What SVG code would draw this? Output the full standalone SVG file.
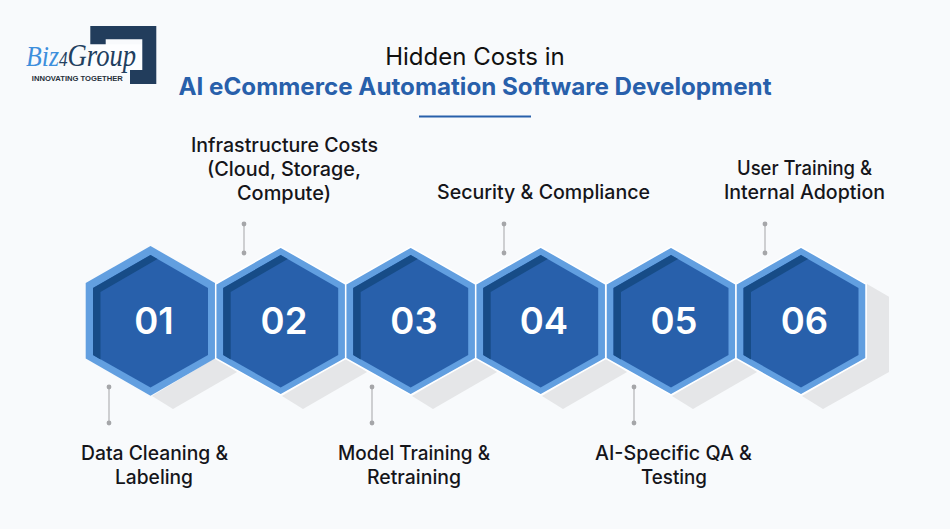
<svg xmlns="http://www.w3.org/2000/svg" xmlns:xlink="http://www.w3.org/1999/xlink" width="950" height="529" viewBox="0 0 950 529">
<style>
.t{font-family:"Inter","Liberation Sans",sans-serif;font-size:19.5px;font-weight:500;fill:#15151a;text-anchor:middle}
.h{font-family:"Inter","Liberation Sans",sans-serif;font-size:24px;text-anchor:middle}
.n{font-family:"Inter","Liberation Sans",sans-serif;font-size:36.5px;font-weight:600;fill:#fff;text-anchor:middle}
.lg{font-family:"Liberation Serif",serif;font-style:italic}
.ln{stroke:#c9cacd;stroke-width:1.8}
.d{fill:#a5a6a9}
.sh{fill:#e5e6e8}
</style>
<defs>
<g id="core">
<polygon points="0,-66 57.5,-33 57.5,34 0,66.500 -57.500,34 -57.500,-33" fill="#2860ab"/>
<polygon points="0,-66 7,-62 -50,-29 -50,38.500 -57.500,34 -57.500,-33" fill="#174c87"/>
</g>
<g id="hex">
<polygon points="0,-74 65,-37 65,37.500 0,73.800 -65,37.500 -65,-37" fill="#629fe0" stroke="#fff" stroke-width="1.5"/>
<use xlink:href="#core" href="#core"/>
</g>
</defs>
<rect width="950" height="529" fill="#f8fafc"/>
<g id="logo">
<polygon points="90.300,44.300 142.300,44.300 142.300,70 130,70 90.300,70" fill="#fdfeff"/>
<polygon points="90.300,26 156.300,26 156.300,84 130,84 130,70 142.300,70 142.300,39.300 105.700,39.300 105.700,44.300 90.300,44.300" fill="#223d5c"/>
<text class="lg" transform="translate(26 66) scale(.86 1)" font-size="30" fill="#22405f"><tspan fill="#3d8fdc">Biz</tspan><tspan font-size="20">4</tspan><tspan font-size="31">Group</tspan></text>
<text x="77.300" y="80.500" font-family="Liberation Sans,sans-serif" font-size="7.500" font-weight="700" fill="#26303a" text-anchor="middle" textLength="91" lengthAdjust="spacingAndGlyphs">INNOVATING TOGETHER</text>
</g>
<g id="title">
<text class="h" x="475" y="65" fill="#111">Hidden Costs in</text>
<text class="h" x="475" y="95" fill="#2860ab" font-weight="700" textLength="593" lengthAdjust="spacingAndGlyphs">AI eCommerce Automation Software Development</text>
<line x1="419" y1="116.500" x2="531" y2="116.500" stroke="#2860ab" stroke-width="2"/>
</g>
<g id="connectors">
<line class="ln" x1="109" y1="387" x2="109" y2="423"/><circle class="d" cx="109" cy="387" r="2.400"/><circle class="d" cx="109" cy="423" r="2.400"/>
<line class="ln" x1="244" y1="224" x2="244" y2="253"/><circle class="d" cx="244" cy="224" r="2.400"/><circle class="d" cx="244" cy="253" r="2.400"/>
<line class="ln" x1="372" y1="387" x2="372" y2="423"/><circle class="d" cx="372" cy="387" r="2.400"/><circle class="d" cx="372" cy="423" r="2.400"/>
<line class="ln" x1="504" y1="224" x2="504" y2="253"/><circle class="d" cx="504" cy="224" r="2.400"/><circle class="d" cx="504" cy="253" r="2.400"/>
<line class="ln" x1="634" y1="387" x2="634" y2="423"/><circle class="d" cx="634" cy="387" r="2.400"/><circle class="d" cx="634" cy="423" r="2.400"/>
<line class="ln" x1="765" y1="224" x2="765" y2="253"/><circle class="d" cx="765" cy="224" r="2.400"/><circle class="d" cx="765" cy="253" r="2.400"/>
</g>
<g id="shadows">
<polygon class="sh" points="867,284 889,296.700 889,372 823,409 802,396 867,358"/>
<polygon class="sh" points="152,396 173,409 237,372 215,358"/>
<polygon class="sh" points="282,396 303,409 367,372 345,358"/>
<polygon class="sh" points="412,396 433,409 497,372 475,358"/>
<polygon class="sh" points="542,396 563,409 627,372 605,358"/>
<polygon class="sh" points="672,396 693,409 757,372 735,358"/>
</g>
<g id="node-01"><polygon points="150.500,246 215,283 215,358.500 150.500,395.700 85.700,358.500 85.700,283" fill="#629fe0"/><use xlink:href="#core" href="#core" x="150.500" y="321"/><text class="n" x="154" y="334">01</text></g>
<g id="node-02"><use xlink:href="#hex" href="#hex" x="280.700" y="321"/><text class="n" x="284" y="334">02</text></g>
<g id="node-03"><use xlink:href="#hex" href="#hex" x="410.700" y="321"/><text class="n" x="414" y="334">03</text></g>
<g id="node-04"><use xlink:href="#hex" href="#hex" x="540.700" y="321"/><text class="n" x="544" y="334">04</text></g>
<g id="node-05"><use xlink:href="#hex" href="#hex" x="671" y="321"/><text class="n" x="674" y="334">05</text></g>
<g id="node-06"><use xlink:href="#hex" href="#hex" x="801" y="321"/><text class="n" x="804.500" y="334">06</text></g>
<g id="labels">
<text class="t" x="154.500" y="460" textLength="147" lengthAdjust="spacingAndGlyphs">Data Cleaning &amp;</text><text class="t" x="154" y="484" textLength="78" lengthAdjust="spacingAndGlyphs">Labeling</text>
<text class="t" x="284.500" y="152" textLength="187" lengthAdjust="spacingAndGlyphs">Infrastructure Costs</text><text class="t" x="284" y="176" textLength="154" lengthAdjust="spacingAndGlyphs">(Cloud, Storage,</text><text class="t" x="284" y="200" textLength="94" lengthAdjust="spacingAndGlyphs">Compute)</text>
<text class="t" x="414" y="460" textLength="152" lengthAdjust="spacingAndGlyphs">Model Training &amp;</text><text class="t" x="414" y="484" textLength="94" lengthAdjust="spacingAndGlyphs">Retraining</text>
<text class="t" x="543.500" y="199" textLength="213" lengthAdjust="spacingAndGlyphs">Security &amp; Compliance</text>
<text class="t" x="673.500" y="460" textLength="157" lengthAdjust="spacingAndGlyphs">AI-Specific QA &amp;</text><text class="t" x="674" y="484" textLength="66" lengthAdjust="spacingAndGlyphs">Testing</text>
<text class="t" x="804.500" y="175" textLength="135" lengthAdjust="spacingAndGlyphs">User Training &amp;</text><text class="t" x="804.500" y="199" textLength="161" lengthAdjust="spacingAndGlyphs">Internal Adoption</text>
</g>
</svg>
